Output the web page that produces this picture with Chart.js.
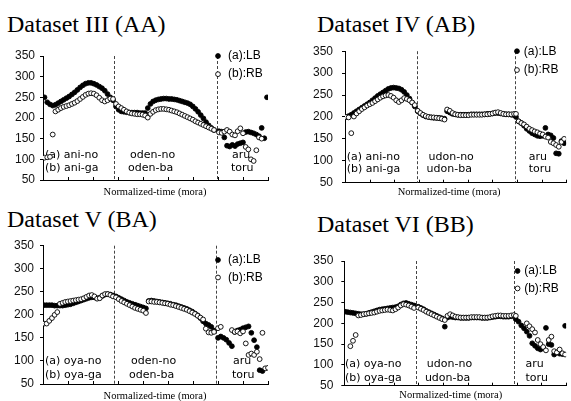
<!DOCTYPE html>
<html>
<head>
<meta charset="utf-8">
<script src="https://cdn.jsdelivr.net/npm/chart.js@4.4.1/dist/chart.umd.min.js"></script>
<style>
  body { margin: 0; background: #fff; width: 571px; height: 401px; position: relative; overflow: hidden; }
  .ttl { position: absolute; font: 24px/24px "Liberation Serif", serif; color: #000; white-space: nowrap; }
  canvas { position: absolute; }
</style>
</head>
<body>
<div class="ttl" style="left:7px;top:12px">Dataset III (AA)</div>
<div class="ttl" style="left:317px;top:12px">Dataset IV (AB)</div>
<div class="ttl" style="left:7px;top:207px">Dataset V (BA)</div>
<div class="ttl" style="left:317px;top:212px">Dataset VI (BB)</div>
<canvas id="c1" width="285" height="160" style="left:0;top:40px"></canvas>
<canvas id="c2" width="271" height="165" style="left:300px;top:35px"></canvas>
<canvas id="c3" width="285" height="171" style="left:0;top:230px"></canvas>
<canvas id="c4" width="271" height="161" style="left:300px;top:240px"></canvas>
<script>
// ===== DATA =====
// y ticks (Hz)
const yTicks = [50, 100, 150, 200, 250, 300, 350];
// normalized-time span of each phrase segment (x units, 9 = end)
const spanAA = [[0.06, 2.8], [2.92, 6.84], [7.04, 8.96]];
const spanAB = [[0.04, 2.84], [2.96, 6.88], [6.96, 8.92]];
const spanBA = [[0.04, 2.8], [2.92, 6.84], [7.0, 9.0]];
const spanBB = [[0.03, 2.83], [3.0, 6.88], [6.96, 8.96]];

// Dataset III (AA)
const lbAA = [
  [250, 238, 233, 230, 232, 236, 240, 244, 248, 252, 257, 262, 268, 274, 279, 283, 285, 285, 283, 280, 276, 272, 266, 258, 250, 243],
  [228, 220, 216, 215, 214, 213, 213, 213, 213, 212, 212, 212, 224, 234, 240, 243, 245, 246, 247, 247, 246, 246, 245, 244, 242, 240, 238, 236, 233, 228, 222, 215, 207, 199, 190, 182, 176, 171],
  [168, 167, 153, 133, 131, 135, 132, 137, 139, 141, 166, 167, 165, 163, 160, 156, 176, 151, 250]
];
const rbAA = [
  [104, 105, 106, 160, 216, 220, 224, 227, 229, 231, 234, 237, 241, 246, 251, 256, 259, 260, 259, 255, 249, 243, 240, 243, 247, 246],
  [234, 228, 224, 220, 216, 213, 211, 210, 209, 209, 208, 206, 201, 210, 215, 219, 221, 222, 222, 221, 220, 218, 216, 214, 211, 208, 205, 202, 199, 196, 192, 189, 186, 183, 180, 177, 174, 171],
  [165, 164, 167, 171, 167, 160, 158, 168, 175, 163, 130, 124, 100, 96, 122, 153, 150, null, null]
];

// Dataset IV (AB)
const lbAB = [
  [200, 202, 205, 209, 213, 217, 221, 225, 229, 233, 238, 243, 248, 252, 256, 260, 264, 266, 267, 266, 265, 262, 257, 250, 242, 233, 224],
  [213, 208, 204, 201, 200, 199, 198, 198, 198, 197, 196, 213, 210, 207, 206, 205, 205, 205, 205, 205, 206, 206, 206, 206, 206, 206, 207, 207, 208, 209, 209, 208, 207, 206, 206, 205, 204],
  [200, 190, 186, 180, 173, 168, 163, 160, 157, 156, 157, 175, 160, 158, 152, 117, 116, 145, 140]
];
const rbAB = [
  [200, 199, 163, 201, 208, 213, 218, 222, 226, 229, 232, 236, 240, 244, 247, 249, 250, 248, 244, 238, 234, 238, 243, 241, 238, 233, 227],
  [214, 209, 205, 202, 200, 199, 199, 198, 197, 196, 194, 217, 214, 209, 206, 205, 204, 204, 204, 204, 205, 205, 205, 205, 205, 206, 206, 207, 208, 210, 211, 209, 207, 206, 206, 206, 207],
  [207, 190, 186, 183, 178, 173, 170, 167, 165, 162, 160, 155, 153, 143, 140, 136, 132, 143, 150]
];

// Dataset V (BA)
const lbBA = [
  [221, 221, 221, 221, 220, 220, 220, 220, 221, 222, 223, 225, 227, 229, 231, 233, 235, 237, 238, 238, 236, 237, 241, 244, 245, 244, 242],
  [240, 237, 234, 231, 228, 226, 224, 222, 220, 218, 216, 214, 230, 231, 230, 229, 228, 227, 226, 225, 224, 222, 221, 219, 217, 215, 213, 210, 207, 203, 199, 193, 186, 181, 178, 174, 166],
  [150, 153, 150, 146, 139, 132, 163, 166, 168, 171, 173, 175, 161, 145, 130, 80, 78, null, null]
];
const rbBA = [
  [181, 181, 187, 193, 200, 206, 224, 226, 228, 229, 230, 231, 232, 233, 234, 236, 239, 242, 243, 240, 235, 236, 242, 245, 245, 243, 240],
  [238, 234, 230, 227, 224, 221, 218, 215, 213, 211, 209, 204, 229, 229, 228, 228, 227, 226, 225, 224, 222, 221, 219, 217, 215, 213, 211, 208, 205, 202, 198, 194, 190, 170, 162, 161, 163],
  [171, 174, null, null, null, 167, 163, 164, 160, 164, 138, 113, 116, 113, 120, 104, 161, 84, 85]
];

// Dataset VI (BB)
const lbBB = [
  [228, 227, 226, 225, 224, 223, 222, 222, 223, 225, 227, 229, 231, 233, 234, 235, 236, 237, 238, 239, 241, 245, 248, 249, 247, 245, 243],
  [240, 237, 234, 230, 227, 224, 221, 218, 215, 212, 192, 214, 216, 215, 214, 214, 213, 213, 213, 213, 214, 214, 214, 214, 213, 213, 213, 214, 215, 216, 217, 217, 216, 216, 216, 217, 218],
  [210, 204, 195, 188, 180, 170, 152, 146, 140, 137, 140, 189, 150, 148, 125, 130, 127, 126, 194]
];
const rbBB = [
  [null, null, 145, 158, 172, 219, 220, 222, 223, 224, 225, 226, 228, 230, 231, 232, 233, 232, 231, 234, 238, 243, 246, 245, 243, 240, 237],
  [238, 235, 232, 228, 225, 222, 219, 216, 213, 210, 208, 218, 222, 219, 216, 215, 214, 214, 214, 214, 215, 215, 215, 215, 214, 214, 214, 215, 217, 218, 219, 219, 218, 218, 218, 219, 220],
  [218, null, null, null, 200, 193, 186, 178, 160, 150, 143, 135, 160, 168, 133, 130, 137, 128, 125]
];

// ===== PANELS =====
const panels = [
  { id: 'c1', span: spanAA, lb: lbAA, rb: rbAA, yW: 43, xH: 20, pad: { top: 16, right: 17 }, tickPad: 5,
    dashes: [2.84, 6.96], lab: { x: 4.48, dy: 12 }, leg: { x: 7.0, tx: 7.4, ya: 350, yb: 306 },
    notes: [['(a) ani-no', 0.08, 110], ['(b) ani-ga', 0.08, 78], ['oden-no', 3.48, 110], ['oden-ba', 3.4, 78], ['aru', 7.56, 110], ['toru', 7.52, 78]] },
  { id: 'c2', span: spanAB, lb: lbAB, rb: rbAB, yW: 45, xH: 17.3, pad: { top: 15.7, right: 1 }, tickPad: 9,
    dashes: [2.93, 6.93], lab: { x: 4.24, dy: 9.3 }, leg: { x: 7.0, tx: 7.28, ya: 350, yb: 307 },
    notes: [['(a) ani-no', 0.07, 109], ['(b) ani-ga', 0.07, 81], ['udon-no', 3.4, 109], ['udon-ba', 3.32, 81], ['aru', 7.48, 109], ['toru', 7.48, 81]] },
  { id: 'c3', span: spanBA, lb: lbBA, rb: rbBA, yW: 43, xH: 17, pad: { top: 15.7, right: 17 }, tickPad: 6,
    dashes: [2.85, 6.92], lab: { x: 4.48, dy: 12.7 }, leg: { x: 7.0, tx: 7.4, ya: 319, yb: 281 },
    notes: [['(a) oya-no', 0.08, 100], ['(b) oya-ga', 0.08, 70], ['oden-no', 3.52, 100], ['oden-ba', 3.44, 70], ['aru', 7.6, 100], ['toru', 7.56, 70]] },
  { id: 'c4', span: spanBB, lb: lbBB, rb: rbBB, yW: 44.3, xH: 15.3, pad: { top: 21, right: 1 }, tickPad: 8,
    dashes: [2.9, 6.9], lab: { x: 4.32, dy: 9.3 }, leg: { x: 7.03, tx: 7.3, ya: 326, yb: 284 },
    notes: [['(a) oya-no', 0.03, 101], ['(b) oya-ga', 0.03, 69], ['udon-no', 3.35, 101], ['udon-ba', 3.27, 69], ['aru', 7.35, 101], ['toru', 7.35, 69]] }
];

function toPts(span, segs) {
  const out = [];
  segs.forEach((seg, k) => {
    const [a, b] = span[k];
    seg.forEach((v, i) => { if (v != null) out.push({ x: a + (b - a) * i / (seg.length - 1), y: v }); });
  });
  return out;
}

function dot(ctx, x, y, filled) {
  ctx.beginPath(); ctx.arc(x, y, 2.4, 0, Math.PI * 2);
  ctx.fillStyle = filled ? '#000' : '#fff'; ctx.fill();
  ctx.lineWidth = 0.9; ctx.strokeStyle = '#000'; ctx.stroke();
}

// dashed phrase boundaries, inner x ticks, phrase labels, legend, x title
function decor(p) {
  return {
    id: 'decor',
    beforeDatasetsDraw(chart) {
      const { ctx, chartArea: a, scales: { x, y } } = chart;
      ctx.save();
      ctx.strokeStyle = '#000'; ctx.lineWidth = 1;
      for (let i = 1; i <= 9; i++) {
        const px = Math.round(x.getPixelForValue(i)) + 0.5;
        ctx.beginPath(); ctx.moveTo(px, a.bottom); ctx.lineTo(px, a.bottom - 3); ctx.stroke();
      }
      ctx.strokeStyle = '#444'; ctx.setLineDash([3, 2]);
      p.dashes.forEach(d => {
        const px = Math.round(x.getPixelForValue(d)) + 0.5;
        ctx.beginPath(); ctx.moveTo(px, a.top); ctx.lineTo(px, a.bottom); ctx.stroke();
      });
      ctx.setLineDash([]);
      ctx.fillStyle = '#000'; ctx.font = '11px "DejaVu Sans"'; ctx.textBaseline = 'middle';
      p.notes.forEach(([t, nx, ny]) => ctx.fillText(t, x.getPixelForValue(nx), y.getPixelForValue(ny)));
      ctx.restore();
    },
    afterDraw(chart) {
      const { ctx, chartArea: a, scales: { x, y } } = chart;
      ctx.save();
      const lx = x.getPixelForValue(p.leg.x), tx = x.getPixelForValue(p.leg.tx);
      dot(ctx, lx, y.getPixelForValue(p.leg.ya), true);
      dot(ctx, lx, y.getPixelForValue(p.leg.yb), false);
      ctx.fillStyle = '#000'; ctx.font = '12px "Liberation Sans"'; ctx.textBaseline = 'middle';
      ctx.fillText('(a):LB', tx, y.getPixelForValue(p.leg.ya));
      ctx.fillText('(b):RB', tx, y.getPixelForValue(p.leg.yb));
      ctx.font = '10.5px "Liberation Serif"'; ctx.textAlign = 'center';
      ctx.fillText('Normalized-time (mora)', x.getPixelForValue(p.lab.x), a.bottom + p.lab.dy);
      ctx.restore();
    }
  };
}

panels.forEach(p => {
  new Chart(document.getElementById(p.id), {
    type: 'scatter',
    data: {
      datasets: [
        { label: '(b):RB', data: toPts(p.span, p.rb), order: 0, pointRadius: 2.4, pointBackgroundColor: '#fff', pointBorderColor: '#000', pointBorderWidth: 0.9 },
        { label: '(a):LB', data: toPts(p.span, p.lb), order: 1, pointRadius: 2.4, pointBackgroundColor: '#000', pointBorderColor: '#000', pointBorderWidth: 0.9 }
      ]
    },
    options: {
      responsive: false, animation: false,
      layout: { padding: { top: p.pad.top, right: p.pad.right, left: 0, bottom: 0 } },
      plugins: { legend: { display: false }, tooltip: { enabled: false } },
      scales: {
        x: { type: 'linear', min: 0, max: 9, ticks: { display: false }, grid: { display: false },
             border: { color: '#000', width: 1 }, afterFit: s => { s.height = p.xH; } },
        y: { min: 50, max: 350, afterBuildTicks: s => { s.ticks = yTicks.map(v => ({ value: v })); },
             ticks: { color: '#111', font: { family: 'Liberation Sans', size: 12 }, padding: p.tickPad },
             grid: { drawOnChartArea: false, tickLength: 3, color: '#000' },
             border: { color: '#000', width: 1 }, afterFit: s => { s.width = p.yW; } }
      }
    },
    plugins: [decor(p)]
  });
});
</script>
</body>
</html>
